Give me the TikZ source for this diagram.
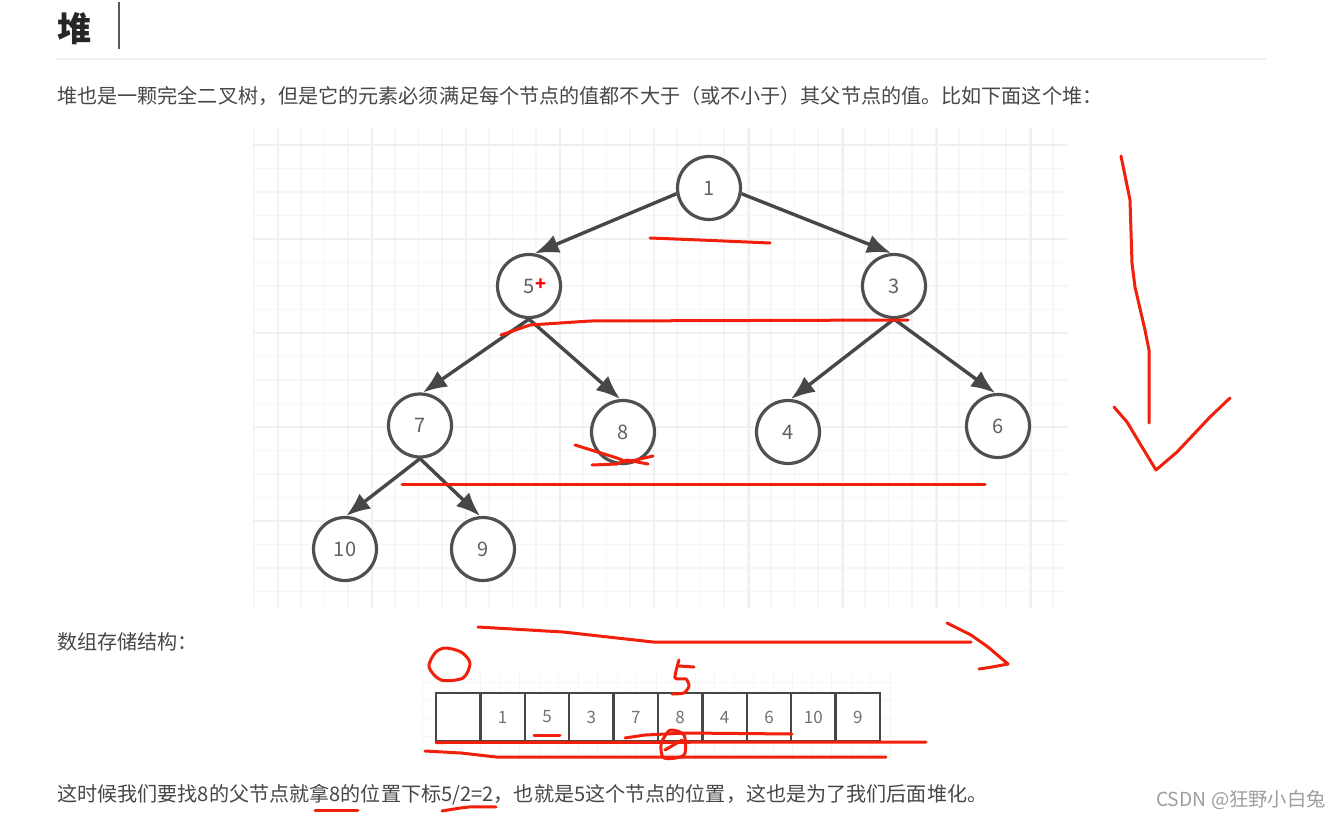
\documentclass[tikz,border=0pt]{standalone}
\usepackage{fontspec}
\setmainfont{Noto Sans CJK SC}
\usetikzlibrary{arrows.meta}
\definecolor{minorgrid}{HTML}{F6F6F6}
\definecolor{majorgrid}{HTML}{F0F0F0}
\definecolor{penred}{HTML}{F0200C}
\definecolor{inkgray}{HTML}{505050}
\tikzset{
  bodytext/.style={anchor=west,inner sep=0pt,text=black!72,font=\fontsize{20.1}{24}\selectfont},
  treenode/.style={circle,draw=inkgray,line width=3.2pt,fill=white,minimum size=63pt,inner sep=0pt,text=black!62,font=\fontsize{20}{22}\selectfont},
  treeedge/.style={-{Latex[length=24pt,width=19pt]},line width=3.4pt,color=black!72},
  cellbox/.style={draw=black!72,line width=2.4pt,fill=white,minimum width=44.4pt,minimum height=48pt,inner sep=0pt,text=black!55,font=\fontsize{17}{20}\selectfont},
  redpen/.style={draw=penred,line width=3pt,line cap=round,line join=round}
}
\begin{document}
\begin{tikzpicture}[x=1pt,y=-1pt]
\useasboundingbox (0,0) rectangle (1342,817);
\fill[white] (0,0) rectangle (1342,817);

\node[anchor=west,inner sep=0pt,text=black!85,font=\fontsize{34}{38}\selectfont\bfseries] (heading) at (57,29) {堆};
\coordinate (bartop) at (119,2);
\coordinate (barbottom) at (119,49);
\draw[line width=1.2pt,black!65] (bartop) -- (barbottom);
\draw[line width=1.2pt,black!6] (57,59) -- (1266,59);
\node[bodytext] (intro) at (57,96) {堆也是一颗完全二叉树，但是它的元素必须满足每个节点的值都不大于（或不小于）其父节点的值。比如下面这个堆：};

\foreach \x in {254,277.5,...,1068} \draw[minorgrid,line width=1.5pt] (\x,128) -- (\x,608);
\foreach \y in {145,168.5,...,608} \draw[minorgrid,line width=1.5pt] (253,\y) -- (1068,\y);
\foreach \x in {277.5,371.7,...,1068} \draw[majorgrid,line width=2pt] (\x,128) -- (\x,608);
\foreach \y in {145,239,333,427,521} \draw[majorgrid,line width=2pt] (253,\y) -- (1068,\y);

\node[treenode] (n1) at (709,188) {1};
\node[treenode] (n5) at (529,286) {5};
\node[treenode] (n3) at (894,286) {3};
\node[treenode] (n7) at (420,425.5) {7};
\node[treenode] (n8) at (623,432) {8};
\node[treenode] (n4) at (788,432) {4};
\node[treenode] (n6) at (998,426) {6};
\node[treenode] (n10) at (345,549) {10};
\node[treenode] (n9) at (483,549) {9};
\draw[treeedge] (n1.190) -- (n5.80);
\draw[treeedge] (n1.-10) -- (n3.95);
\draw[treeedge] (n5.south) -- (n7.85);
\draw[treeedge] (n5.south) -- (n8.95);
\draw[treeedge] (n3.south) -- (n4.85);
\draw[treeedge] (n3.south) -- (n6.95);
\draw[treeedge] (n7.south) -- (n10.88);
\draw[treeedge] (n7.south) -- (n9.95);
\node[inner sep=0pt,text=red,font=\fontsize{18}{20}\selectfont\bfseries] (plus) at (541,285) {+};

\node[bodytext] (arraytitle) at (57,642) {数组存储结构：};

\foreach \x in {422,441.5,...,896} \draw[minorgrid,line width=1pt] (\x,673) -- (\x,760);
\foreach \y in {682,700,...,760} \draw[minorgrid,line width=1pt] (422,\y) -- (896,\y);
\foreach \v [count=\i from 0] in {{},1,5,3,7,8,4,6,10,9}
  \node[cellbox] (cell\i) at (458.2+44.4*\i,717) {\v};

\node[bodytext] (closing) at (57,795) {这时候我们要找8的父节点就拿8的位置下标5/2=2，也就是5这个节点的位置，这也是为了我们后面堆化。};
\node[anchor=east,inner sep=0pt,text=black!38,font=\fontsize{19.3}{22}\selectfont] (mark) at (1326,800) {CSDN @狂野小白兔};

\draw[redpen] plot[smooth] coordinates {(650,238) (700,240) (770,243)};
\draw[redpen] plot coordinates {(501,335) (530,325) (590,321) (908,320)};
\draw[redpen] (402,484) -- (985,484);
\draw[redpen] plot coordinates {(575,445) (617,458) (627,462) (653,456)};
\draw[redpen] plot coordinates {(592,465) (617,464) (627,460) (648,464)};
\draw[redpen] plot coordinates {(1121,156) (1130,200) (1132,263) (1135,287) (1145,330) (1149,350) (1149,423)};
\draw[redpen] plot coordinates {(1114,407) (1127,422) (1142,447) (1156,470) (1177,452) (1210,417) (1230,398)};
\draw[redpen] plot coordinates {(478,627) (563,632) (653,642) (971,642)};
\draw[redpen] plot coordinates {(947,623) (971,635) (988,647) (1008,664) (992,667) (979,669)};
\draw[redpen] plot[smooth cycle] coordinates {(445,648) (461,652) (470,663) (463,678) (441,680) (429,667) (435,653)};
\draw[redpen] plot[smooth,tension=0.4] coordinates {(679,660) (675,678) (686,679) (689,686) (684,693) (672,694)};
\draw[redpen] (679,666) -- (694,667);
\draw[redpen] (534,735) -- (560,735);
\draw[redpen] (436,742.5) -- (926,742);
\draw[redpen] plot coordinates {(425,751) (461,753) (496,757) (886,757)};
\draw[redpen] plot coordinates {(625,738) (645,735) (686,733) (792,734)};
\draw[redpen] plot[smooth cycle] coordinates {(671,730) (684,735) (684,755) (664,758) (661,745) (665,736)};
\draw[redpen] (665,750) -- (682,740);
\draw[redpen] (315,810) -- (358,810);
\draw[redpen] plot[smooth] coordinates {(442,811) (469,807) (496,807)};
\end{tikzpicture}
\end{document}
